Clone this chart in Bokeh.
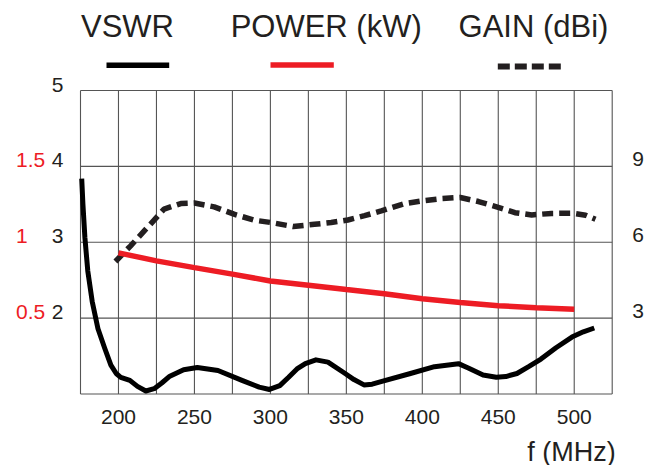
from bokeh.plotting import figure
from bokeh.models import Range1d
from bokeh.embed import file_html
from bokeh.resources import INLINE
from bokeh.core.properties import value

# ---------------- data ----------------
freq_vswr = [175.8, 176.6, 177.9, 179.8, 182.7, 186.5, 191, 195, 198.5, 201.5, 207.5, 212.5,
             218, 223.5, 228.5, 233.8, 242.9, 251.9, 265.5, 281.3, 292.6, 299.4, 306.2, 312,
             317.5, 323, 330, 337.9, 349.2, 355, 361.6, 367, 374, 392.2, 408, 423.8, 430.6,
             440, 448.7, 455, 462.3, 470, 478.1, 488, 498.5, 506, 513.2]
vswr = [3.84, 3.50, 3.06, 2.62, 2.22, 1.86, 1.60, 1.38, 1.27, 1.22, 1.18, 1.10,
        1.04, 1.07, 1.145, 1.235, 1.32, 1.35, 1.31, 1.18, 1.09, 1.06, 1.11, 1.22,
        1.33, 1.40, 1.45, 1.42, 1.27, 1.19, 1.12, 1.13, 1.17, 1.27, 1.36, 1.40, 1.34,
        1.25, 1.22, 1.23, 1.27, 1.36, 1.46, 1.61, 1.75, 1.82, 1.87]

freq_power = [200, 225, 250, 275, 300, 325, 350, 375, 400, 425, 450, 475, 500]
power_kw = [0.93, 0.877, 0.833, 0.79, 0.745, 0.717, 0.688, 0.66, 0.628, 0.603, 0.582, 0.569, 0.559]

freq_gain = [198, 208, 219, 230, 241, 250, 263, 276, 289.5, 300.5, 315, 329, 340, 351, 362,
             373, 388.5, 400.5, 413, 425, 437, 450.5, 461, 472, 485, 498.5, 507.5, 514]
gain_dbi = [5.24, 5.86, 6.58, 7.31, 7.53, 7.55, 7.40, 7.11, 6.87, 6.78, 6.62, 6.71, 6.78, 6.88, 7.05,
            7.24, 7.53, 7.64, 7.73, 7.77, 7.61, 7.37, 7.17, 7.08, 7.14, 7.15, 7.07, 6.91]

f_min, f_max = 175, 525
x_ticks = [200, 250, 300, 350, 400, 450, 500]
x_grid = [200, 225, 250, 275, 300, 325, 350, 375, 400, 425, 450, 475, 500]
v_min, v_max = 1, 5
vswr_ticks = [2, 3, 4, 5]
power_ticks = [0.5, 1, 1.5]
gain_ticks = [3, 6, 9]
legend_labels = ["VSWR", "POWER (kW)", "GAIN (dBi)"]
x_title = "f (MHz)"

# secondary scales, tied to the VSWR scale: VSWR 2/3/4 <-> 0.5/1/1.5 kW <-> 3/6/9 dBi
POWER_PER_VSWR = 0.5
GAIN_PER_VSWR = 3.0

# ---------------- layout / style ----------------
FONT = "Liberation Sans"
TXT = "#231F20"
RED = "#ED1C24"
GRID = "#555555"
W, H = 656, 465
FX0, FX1 = 80.0, 611.7      # frame left / right in px
FY0, FY1 = 90.0, 393.5      # frame top / bottom in px

sx = (FX1 - FX0) / (f_max - f_min)
sy = (FY1 - FY0) / (v_max - v_min)
x_start = f_min - FX0 / sx
x_end = f_max + (W - FX1) / sx
y_end = v_max + FY0 / sy
y_start = v_min - (H - FY1) / sy


def px_x(px):
    return x_start + px / sx


def px_y(py):
    return y_end - py / sy


p = figure(width=W, height=H, x_range=Range1d(x_start, x_end), y_range=Range1d(y_start, y_end),
           output_backend="svg", toolbar_location=None, title=None,
           x_axis_location=None, y_axis_location=None, min_border=0)
p.extra_y_ranges = {
    "power": Range1d((y_start - v_min) * POWER_PER_VSWR, (y_end - v_min) * POWER_PER_VSWR),
    "gain": Range1d((y_start - v_min) * GAIN_PER_VSWR, (y_end - v_min) * GAIN_PER_VSWR),
}
p.outline_line_color = None
p.xgrid.visible = False
p.ygrid.visible = False

# grid box
vx = [f_min] + x_grid + [f_max]
p.segment(x0=vx, y0=[v_min] * len(vx), x1=vx, y1=[v_max] * len(vx),
          line_color=GRID, line_width=1.1)
hy = [v_min] + [t for t in vswr_ticks if t < v_max] + [v_max]
p.segment(x0=[f_min] * len(hy), y0=hy, x1=[f_max] * len(hy), y1=hy,
          line_color=GRID, line_width=1.1)

# series
p.line(freq_gain, gain_dbi, y_range_name="gain", line_color=TXT, line_width=5.5,
       line_dash="11 6")
p.line(freq_power, power_kw, y_range_name="power", line_color=RED, line_width=5.5)
p.line(freq_vswr, vswr, line_color="#000000", line_width=5, line_join="round")

# tick labels
tick_kw = dict(text_font=value(FONT), text_font_size="21px", text_baseline="middle")
p.text(x=[f_min] * len(vswr_ticks), y=vswr_ticks, text=[f"{v:g}" for v in vswr_ticks],
       x_offset=-17, y_offset=-6, text_align="right", text_color=TXT, **tick_kw)
p.text(x=[f_min] * len(power_ticks), y=power_ticks, text=[f"{v:g}" for v in power_ticks],
       y_range_name="power", x_offset=-64.5, y_offset=-6, text_align="left",
       text_color=RED, **tick_kw)
p.text(x=[f_max] * len(gain_ticks), y=gain_ticks, text=[f"{v:g}" for v in gain_ticks],
       y_range_name="gain", x_offset=20, y_offset=-7, text_align="left",
       text_color=TXT, **tick_kw)
p.text(x=x_ticks, y=[v_min] * len(x_ticks), text=[f"{v:g}" for v in x_ticks],
       y_offset=23, text_align="center", text_color=TXT, **tick_kw)
p.text(x=[f_max], y=[v_min], text=[x_title], x_offset=3.5, y_offset=57.5,
       text_align="right", text_baseline="middle", text_font=value(FONT),
       text_font_size="27px", text_color=TXT)

# legend (text above a line sample)
p.text(x=[px_x(127), px_x(325.7), px_x(533)], y=[px_y(26.2)] * 3, text=legend_labels,
       text_font=value(FONT), text_font_size="31px", text_color=TXT,
       text_align="center", text_baseline="middle")
p.segment(x0=[px_x(106), px_x(270)], y0=[px_y(64.7), px_y(64.5)],
          x1=[px_x(168.7), px_x(333.3)], y1=[px_y(64.7), px_y(64.5)],
          line_color=["#000000", RED], line_width=5.5)
p.segment(x0=[px_x(497.3)], y0=[px_y(66)], x1=[px_x(560.3)], y1=[px_y(66)],
          line_color=TXT, line_width=6, line_dash="12 5")

open("out.html", "w").write(file_html(p, INLINE))
